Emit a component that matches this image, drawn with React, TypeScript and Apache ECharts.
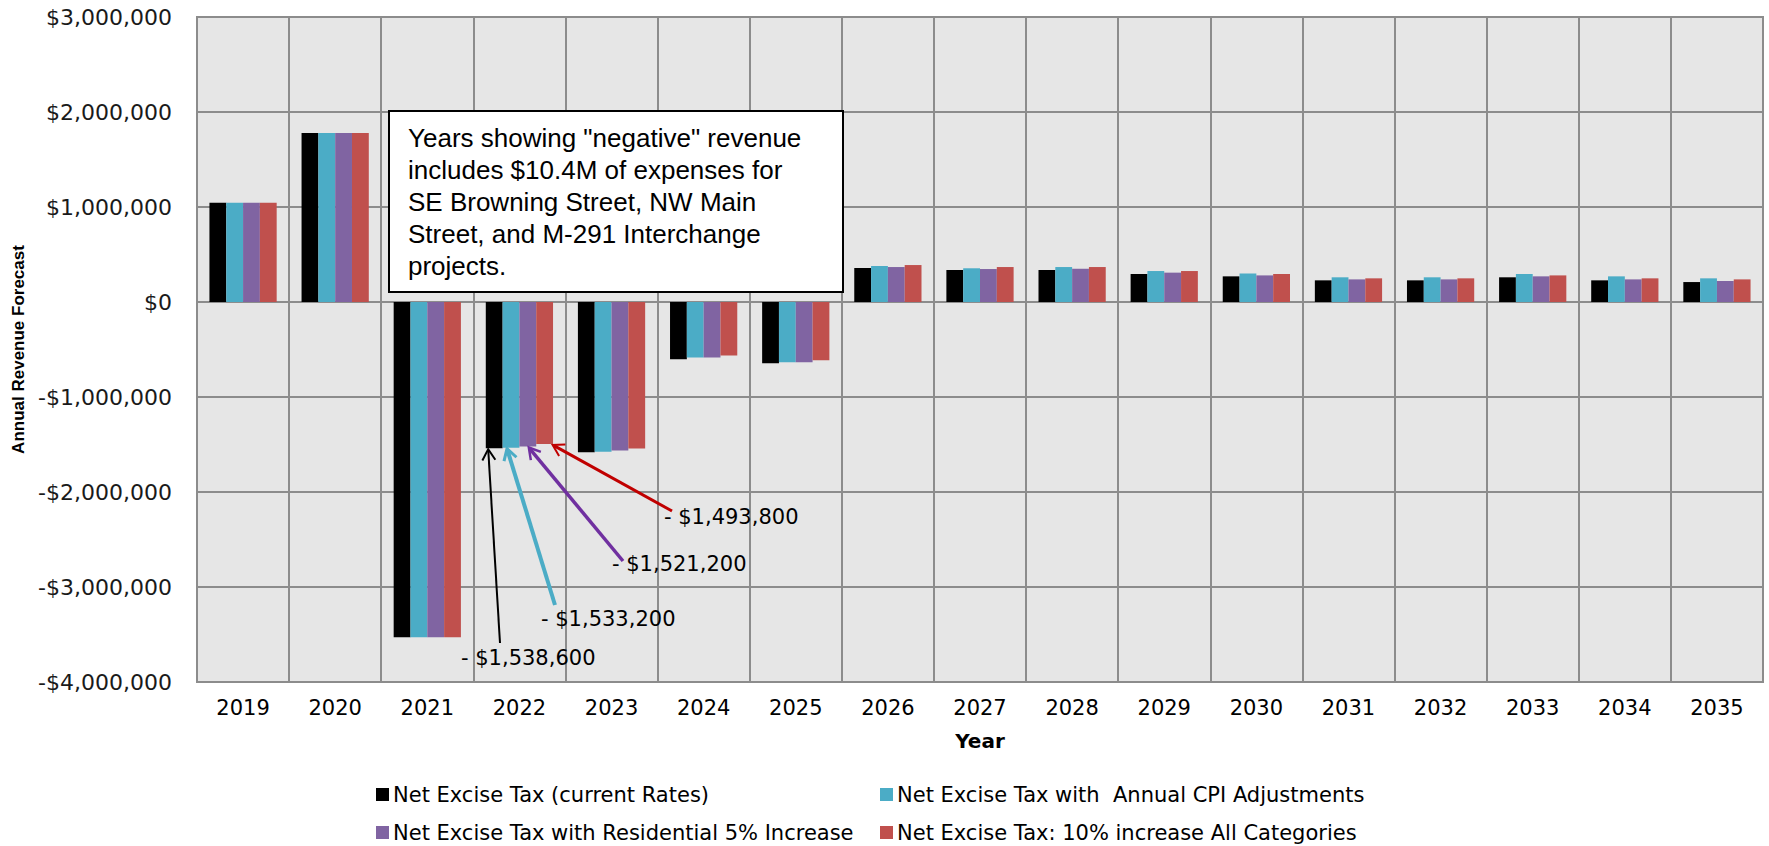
import React, { useEffect, useRef } from "react";
import * as echarts from "echarts";

const years = ["2019", "2020", "2021", "2022", "2023", "2024", "2025", "2026", "2027", "2028", "2029", "2030", "2031", "2032", "2033", "2034", "2035"];

const seriesNames = [
  "Net Excise Tax (current Rates)",
  "Net Excise Tax with  Annual CPI Adjustments",
  "Net Excise Tax with Residential 5% Increase",
  "Net Excise Tax: 10% increase All Categories",
];

const currentRates = [1045000, 1780000, -3530000, -1538600, -1581000, -603000, -645000, 358000, 337000, 337000, 295000, 270000, 228000, 228000, 260000, 228000, 210000];
const cpiAdjusted = [1045000, 1780000, -3530000, -1533200, -1575000, -585000, -635000, 379000, 355000, 368000, 326000, 300000, 260000, 260000, 295000, 270000, 249000];
const residential5 = [1045000, 1780000, -3530000, -1521200, -1562000, -585000, -635000, 368000, 347000, 350000, 309000, 280000, 238000, 238000, 270000, 238000, 221000];
const allCategories10 = [1045000, 1780000, -3530000, -1493800, -1541000, -564000, -612000, 389000, 368000, 368000, 326000, 295000, 249000, 249000, 280000, 249000, 238000];

const seriesValues = [currentRates, cpiAdjusted, residential5, allCategories10];
const barColors = ["#000000", "#4BACC6", "#8064A2", "#C0504D"];
const arrowColors = ["#000000", "#4BACC6", "#7030A0", "#C00000"];

const annotatedYear = "2022";
const noteText = [
  'Years showing "negative" revenue',
  "includes $10.4M of expenses for",
  "SE Browning Street, NW Main",
  "Street, and M-291 Interchange",
  "projects.",
];

const money = (v: number) => {
  const s = Math.abs(v).toLocaleString("en-US");
  return (v < 0 ? "-$" : "$") + s;
};

const W = 1769;
const H = 846;
const GRID = { left: 197, right: 6, top: 17, bottom: 164 };
const CAT_GAP = 0.27;

export default function App() {
  const ref = useRef<HTMLDivElement>(null);

  useEffect(() => {
    const el = ref.current!;
    const chart = echarts.init(el, null, { renderer: "svg" });
    const grey = "#8c8c8c";
    const font = "DejaVu Sans";

    // legend slots: [left, top] for each series (2 x 2 layout)
    const legendSlots = [
      [376, 784],
      [880, 784],
      [376, 822],
      [880, 822],
    ];

    const option: any = {
      animation: false,
      textStyle: { fontFamily: font },
      grid: {
        ...GRID,
        show: true,
        backgroundColor: "#e6e6e6",
        borderColor: grey,
        borderWidth: 2,
        containLabel: false,
      },
      legend: seriesNames.map((name, i) => ({
        data: [name],
        left: legendSlots[i][0],
        top: legendSlots[i][1],
        itemWidth: 13,
        itemHeight: 13,
        icon: "rect",
        selectedMode: false,
        padding: 0,
        textStyle: { fontFamily: font, fontSize: 21, color: "#000", padding: [0, 0, 0, -1] },
      })),
      xAxis: {
        type: "category",
        data: years,
        name: "Year",
        nameLocation: "middle",
        nameGap: 49,
        nameTextStyle: { fontFamily: font, fontWeight: "bold", fontSize: 20, color: "#000" },
        axisLine: { show: true, onZero: false, lineStyle: { color: grey, width: 2 } },
        axisTick: { show: false },
        axisLabel: { fontFamily: font, fontSize: 21, color: "#000", margin: 15, interval: 0 },
        splitLine: { show: true, interval: 0, lineStyle: { color: grey, width: 2 } },
      },
      yAxis: {
        type: "value",
        min: -4000000,
        max: 3000000,
        interval: 1000000,
        name: "Annual Revenue Forecast",
        nameLocation: "middle",
        nameGap: 168,
        nameTextStyle: { fontFamily: "Liberation Sans", fontWeight: "bold", fontSize: 17, color: "#000" },
        axisLine: { show: false },
        axisTick: { show: false },
        axisLabel: { fontFamily: font, fontSize: 22, color: "#1a1a1a", margin: 25, formatter: (v: number) => money(v) },
        splitLine: { show: true, lineStyle: { color: grey, width: 2 } },
      },
      series: seriesNames.map((name, i) => ({
        name,
        type: "bar",
        data: seriesValues[i],
        barGap: "0%",
        barCategoryGap: CAT_GAP * 100 + "%",
        itemStyle: { color: barColors[i] },
        emphasis: { disabled: true },
      })),
    };
    chart.setOption(option);

    // Annotation box and arrows pointing at the 2022 bars
    const idx = years.indexOf(annotatedYear);
    const c0 = chart.convertToPixel({ xAxisIndex: 0 }, 0) as number;
    const c1 = chart.convertToPixel({ xAxisIndex: 0 }, 1) as number;
    const band = c1 - c0;
    const barW = (band * (1 - CAT_GAP)) / seriesNames.length;
    const tails = [
      [500, 643],
      [555, 605],
      [623, 561],
      [672, 511],
    ];
    const headDx = [-6, -4, 1, 8];
    const lineWidths = [2, 4, 3.5, 3];
    const labelPos = [
      [461, 658],
      [541, 619],
      [612, 564],
      [664, 517],
    ];

    const graphics: any[] = [
      {
        type: "rect",
        z: 100,
        shape: { x: 389, y: 111, width: 454, height: 181 },
        style: { fill: "#ffffff", stroke: "#000000", lineWidth: 2 },
      },
      {
        type: "text",
        z: 101,
        x: 408,
        y: 122,
        style: {
          text: noteText.join("\n"),
          fontFamily: "Liberation Sans",
          fontSize: 26,
          lineHeight: 32,
          fill: "#000",
        },
      },
    ];

    seriesValues.forEach((vals, i) => {
      const p = chart.convertToPixel({ xAxisIndex: 0, yAxisIndex: 0 }, [idx, vals[idx]]) as number[];
      const cx = p[0] - (band * (1 - CAT_GAP)) / 2 + barW * (i + 0.5) + headDx[i];
      const hy = p[1] + 1;
      const [tx, ty] = tails[i];
      const dx = cx - tx;
      const dy = hy - ty;
      const len = Math.sqrt(dx * dx + dy * dy);
      const ux = dx / len;
      const uy = dy / len;
      const nx = -uy;
      const ny = ux;
      const s = 11;
      const w = 6.5;
      graphics.push({
        type: "line",
        z: 100,
        shape: { x1: tx, y1: ty, x2: cx - ux * 1, y2: hy - uy * 1 },
        style: { stroke: arrowColors[i], lineWidth: lineWidths[i] },
      });
      graphics.push({
        type: "polyline",
        z: 100,
        shape: {
          points: [
            [cx - ux * s + nx * w, hy - uy * s + ny * w],
            [cx, hy],
            [cx - ux * s - nx * w, hy - uy * s - ny * w],
          ],
        },
        style: { stroke: arrowColors[i], lineWidth: Math.max(2, lineWidths[i] - 1), fill: null },
      });
      graphics.push({
        type: "text",
        z: 101,
        x: labelPos[i][0],
        y: labelPos[i][1],
        style: {
          text: "- " + money(Math.abs(vals[idx])),
          fontFamily: font,
          fontSize: 21,
          fill: "#000",
          verticalAlign: "middle",
        },
      });
    });

    chart.setOption({ graphic: graphics });

    return () => chart.dispose();
  }, []);

  return (
    <div style={{ position: "fixed", left: 0, top: 0, width: W, height: H, background: "#fff" }}>
      <div ref={ref} style={{ width: W, height: H }} />
    </div>
  );
}
